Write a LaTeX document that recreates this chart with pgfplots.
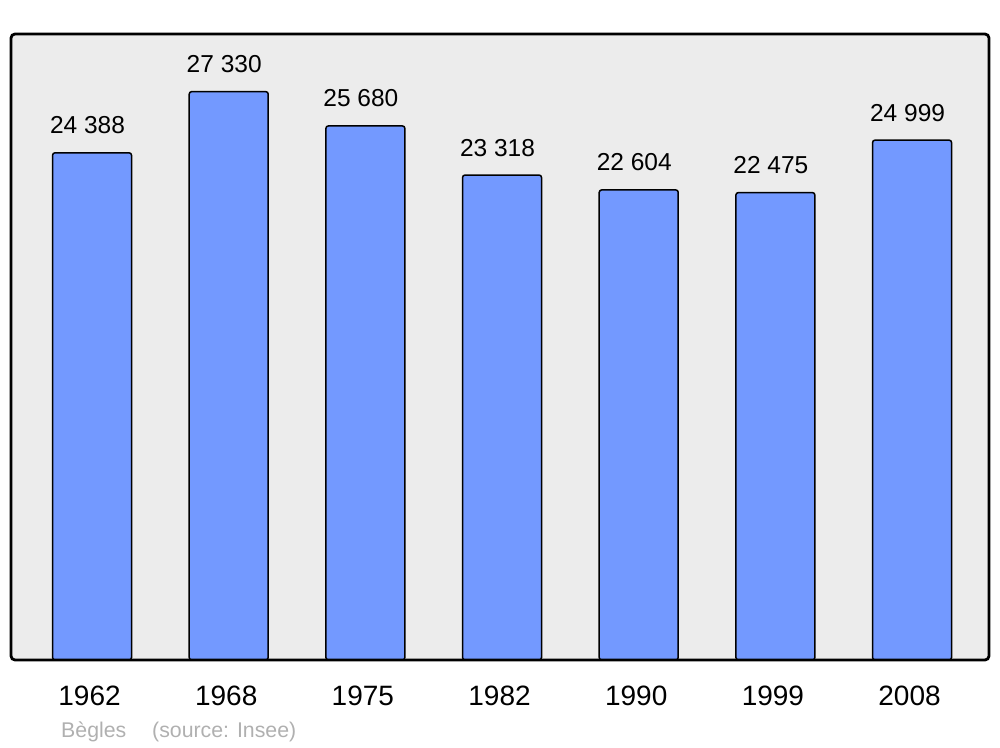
\documentclass[border=0pt]{standalone}
\usepackage{fontspec}
\setmainfont{Liberation Sans}
\usepackage{pgfplots}
\pgfplotsset{compat=1.18}
\definecolor{barblue}{RGB}{115,153,255}
\definecolor{bggray}{RGB}{236,236,236}
\definecolor{captiongray}{RGB}{176,176,176}
\begin{document}
\begin{tikzpicture}
\path (0pt,0pt) rectangle (1000pt,747pt);
\begin{axis}[
  at={(11pt,87pt)}, anchor=south west,
  width=978pt, height=626pt, scale only axis,
  xmin=-0.593, xmax=6.563, ymin=0, ymax=30100,
  axis line style={draw=none},
  axis background/.style={fill=bggray},
  ytick=\empty,
  xtick=data,
  xticklabels={1962,1968,1975,1982,1990,1999,2008},
  major tick length=0pt,
  xticklabel style={anchor=base, yshift=-45pt, xshift=-2.5pt, font=\fontsize{28}{28}\selectfont},
  ybar, bar width=0.578,
  clip=false,
  nodes near coords,
  /pgf/number format/assume math mode=true,
  /pgf/number format/.cd, 1000 sep={\ }, fixed, precision=0, /pgfplots/.cd,
  every node near coord/.append style={anchor=base, yshift=19pt, xshift=-4.5pt, font=\fontsize{24.5}{24.5}\selectfont, text=black},
]
\addplot[fill=barblue, draw=black, line width=1.5pt, rounded corners=2.5pt] coordinates {
(0,24388) (1,27330) (2,25680) (3,23318) (4,22604) (5,22475) (6,24999)};
\draw[line width=2.8pt, rounded corners=4pt] (rel axis cs:0,0) rectangle (rel axis cs:1,1);
\end{axis}
\node[anchor=base west, text=captiongray, font=\fontsize{21.3}{21.3}\selectfont, inner sep=0pt] at (61pt,10pt) {Bègles};
\node[anchor=base west, text=captiongray, font=\fontsize{21.3}{21.3}\selectfont, inner sep=0pt] at (152pt,10pt) {(source: Insee)};
\end{tikzpicture}
\end{document}
